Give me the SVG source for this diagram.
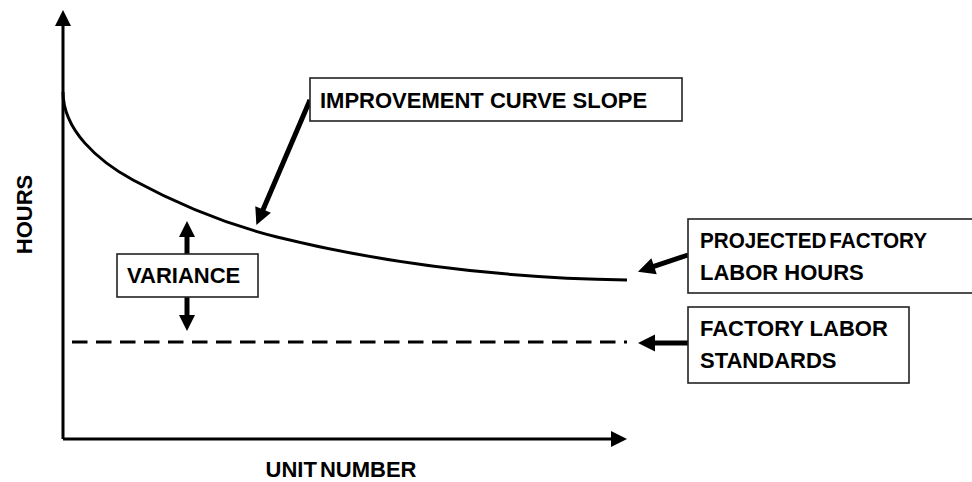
<svg xmlns="http://www.w3.org/2000/svg" width="972" height="482" viewBox="0 0 972 482">
<defs>
<style>
.t{font-family:"Liberation Sans",Arial,sans-serif;font-weight:bold;font-size:22px;fill:#000}
.box{fill:#fff;stroke:#222;stroke-width:1.6}
.ax{fill:none;stroke:#000;stroke-width:3}
.cn{fill:none;stroke:#000;stroke-width:5}
</style>
<marker id="head" markerUnits="userSpaceOnUse" markerWidth="20" markerHeight="20" refX="1" refY="8.5" orient="auto" overflow="visible">
<path d="M0,0 L17,8.5 L0,17 Z" fill="#000"/>
</marker>
<marker id="axhead" markerUnits="userSpaceOnUse" markerWidth="20" markerHeight="20" refX="1" refY="8" orient="auto" overflow="visible">
<path d="M0,0 L16,8 L0,16 Z" fill="#000"/>
</marker>
</defs>
<rect width="972" height="482" fill="#fff"/>

<g id="axes">
<path class="ax" d="M63,439 L63,25" marker-end="url(#axhead)"/>
<path class="ax" d="M63,439 L612,439" marker-end="url(#axhead)"/>
</g>

<g id="curve">
<path class="ax" d="M63,92 C63,130 98,161 133,180 C181,206 229,225 277,237 C394,266 510,278 627,280"/>
</g>

<g id="standards-line">
<path class="ax" d="M72,342 L627,342" stroke-dasharray="15.5 8.5"/>
</g>

<g id="connectors">
<path class="cn" d="M310,100 L262.7,210.4" marker-end="url(#head)"/>
<path class="cn" d="M688,255 L653.1,266.6" marker-end="url(#head)"/>
<path class="cn" d="M688,343 L654,343" marker-end="url(#head)"/>
<path class="cn" d="M187,254 L187,236" marker-end="url(#axhead)"/>
<path class="cn" d="M187,297 L187,316" marker-end="url(#axhead)"/>
</g>

<g id="improvement-label">
<rect class="box" x="310" y="78" width="372" height="43"/>
<text class="t" x="320" y="108">IMPROVEMENT CURVE SLOPE</text>
</g>

<g id="variance-label">
<rect class="box" x="117" y="254" width="141" height="43"/>
<text class="t" x="127" y="283">VARIANCE</text>
</g>

<g id="projected-label">
<rect class="box" x="688" y="219" width="300" height="74"/>
<text class="t" x="700" y="248" word-spacing="-3" textLength="227" lengthAdjust="spacingAndGlyphs">PROJECTED FACTORY</text>
<text class="t" x="700" y="280">LABOR HOURS</text>
</g>

<g id="standards-label">
<rect class="box" x="688" y="307" width="221" height="76"/>
<text class="t" x="700" y="336">FACTORY LABOR</text>
<text class="t" x="700" y="368">STANDARDS</text>
</g>

<g id="hours-label">
<text class="t" text-anchor="middle" transform="translate(32,214.5) rotate(-90)">HOURS</text>
</g>

<g id="unit-label">
<text class="t" x="341" y="477" text-anchor="middle" word-spacing="-3">UNIT NUMBER</text>
</g>
</svg>
